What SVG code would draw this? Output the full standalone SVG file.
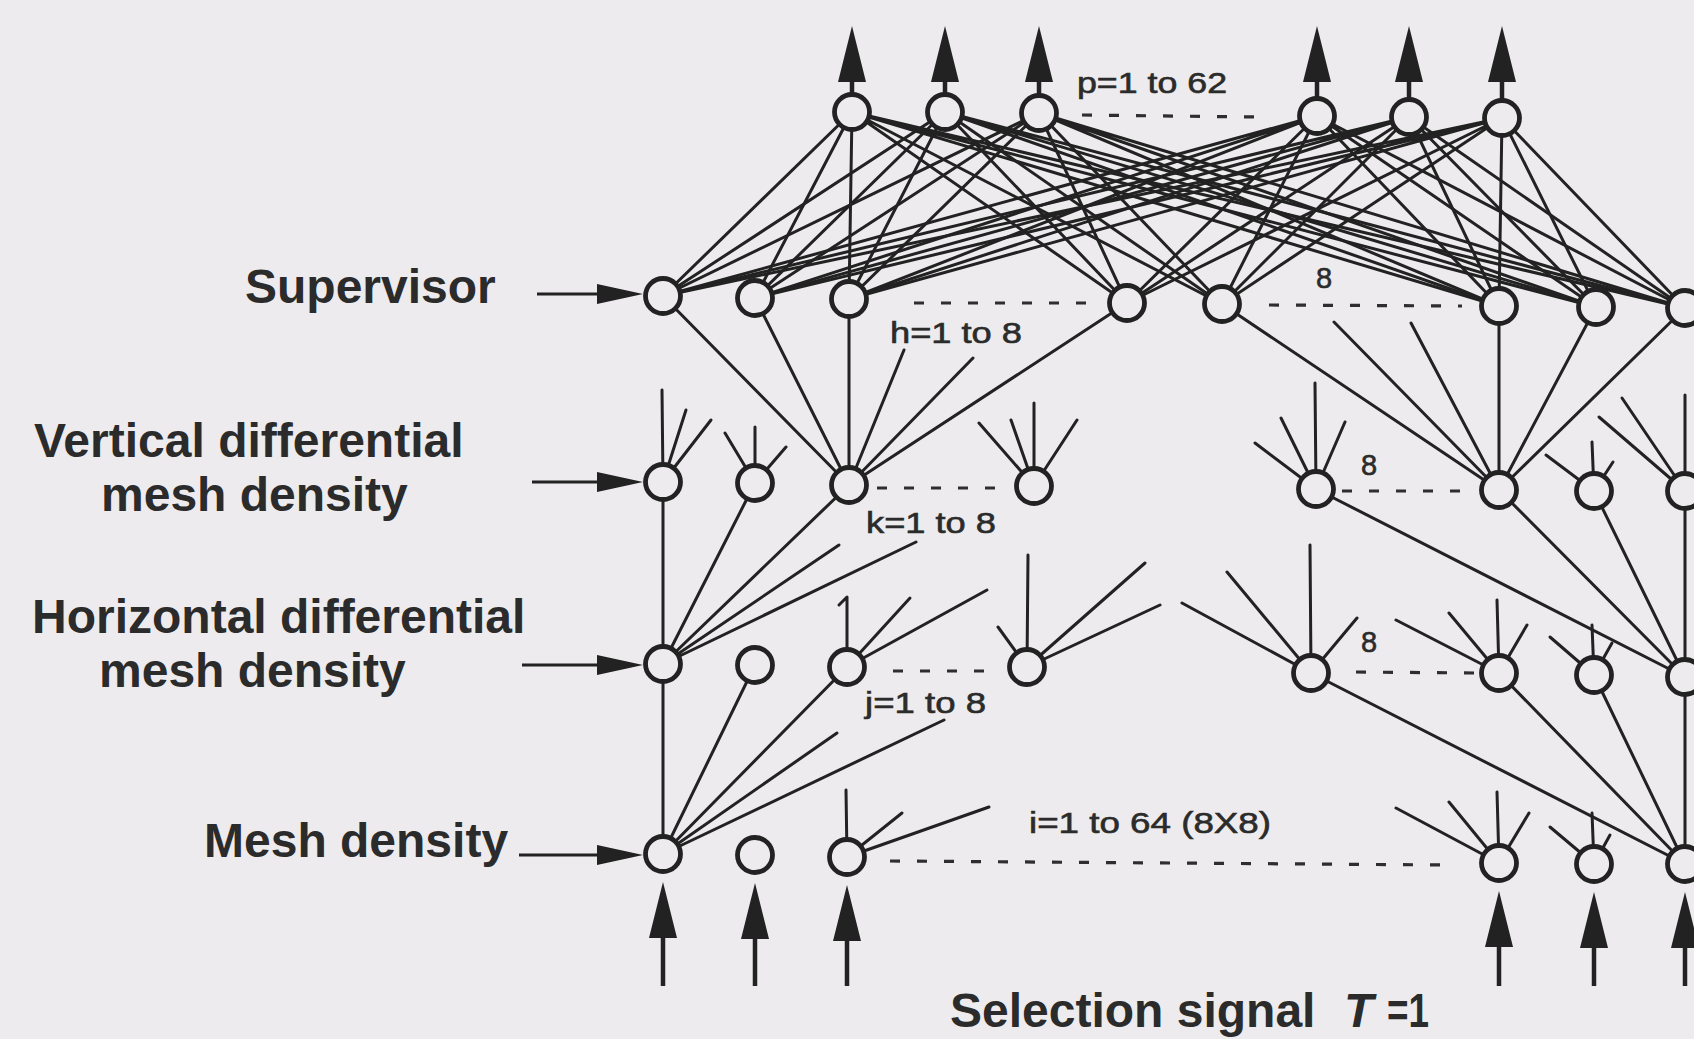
<svg xmlns="http://www.w3.org/2000/svg" width="1694" height="1039" viewBox="0 0 1694 1039">
<defs>
<style>
.ln{stroke:#222;stroke-width:3;fill:none;stroke-linecap:round}
.node circle{fill:#edebed;stroke:#222;stroke-width:4.8}
.dash{stroke:#2e2e2e;stroke-width:3.2;stroke-dasharray:10 17;fill:none}
.arr{stroke:#222;stroke-width:4.5;fill:none}
.lbl{font-family:"Liberation Sans",Arial,sans-serif;font-weight:bold;font-size:48px;fill:#2b2b2b}
.sm{font-family:"Liberation Sans",Arial,sans-serif;font-size:29px;fill:#2b2b2b;stroke:#2b2b2b;stroke-width:0.6}
</style>
<marker id="av" markerUnits="userSpaceOnUse" markerWidth="56" markerHeight="28" viewBox="0 0 56 28" refX="0" refY="14" orient="auto"><path d="M0,0 L56,14 L0,28 z" fill="#222"/></marker>
<marker id="ah" markerUnits="userSpaceOnUse" markerWidth="46" markerHeight="20" viewBox="0 0 46 20" refX="0" refY="10" orient="auto"><path d="M0,0 L46,10 L0,20 z" fill="#222"/></marker>
</defs>
<rect width="1694" height="1039" fill="#edebed"/>
<g id="connectors">
<path class="ln" d="M852,112L663,296M852,112L755,298M852,112L849,299M852,112L1127,303M852,112L1222,304M852,112L1499,306M852,112L1596,307M852,112L1685,308"/>
<path class="ln" d="M945,112L663,296M945,112L755,298M945,112L849,299M945,112L1127,303M945,112L1222,304M945,112L1499,306M945,112L1596,307M945,112L1685,308"/>
<path class="ln" d="M1039,113L663,296M1039,113L755,298M1039,113L849,299M1039,113L1127,303M1039,113L1222,304M1039,113L1499,306M1039,113L1596,307M1039,113L1685,308"/>
<path class="ln" d="M1317,116L663,296M1317,116L755,298M1317,116L849,299M1317,116L1127,303M1317,116L1222,304M1317,116L1499,306M1317,116L1596,307M1317,116L1685,308"/>
<path class="ln" d="M1409,117L663,296M1409,117L755,298M1409,117L849,299M1409,117L1127,303M1409,117L1222,304M1409,117L1499,306M1409,117L1596,307M1409,117L1685,308"/>
<path class="ln" d="M1502,118L663,296M1502,118L755,298M1502,118L849,299M1502,118L1127,303M1502,118L1222,304M1502,118L1499,306M1502,118L1596,307M1502,118L1685,308"/>
<path class="ln" d="M663,296L849,485M755,298L849,485M849,299L849,485M1127,303L849,485M849,485L904,350M849,485L973,358"/>
<path class="ln" d="M1222,304L1499,490M1499,306L1499,490M1596,307L1499,490M1685,308L1499,490M1499,490L1334,322M1499,490L1411,323"/>
<path class="ln" d="M663,482L662,390M663,482L686,410M663,482L711,420"/>
<path class="ln" d="M755,483L725,433M755,483L755,427M755,483L786,447"/>
<path class="ln" d="M1034,486L979,423M1034,486L1011,420M1034,486L1034,403M1034,486L1077,420"/>
<path class="ln" d="M1316,489L1255,443M1316,489L1281,418M1316,489L1315,383M1316,489L1345,422"/>
<path class="ln" d="M1594,491L1546,455M1594,491L1592,442M1594,491L1613,462"/>
<path class="ln" d="M1685,491L1599,417M1685,491L1622,398M1685,491L1685,395"/>
<path class="ln" d="M663,482L663,854M755,483L663,664M849,485L663,664M663,664L839,545M663,664L916,542"/>
<path class="ln" d="M1316,489L1685,677M1499,490L1685,677M1594,491L1685,677M1685,491L1685,864"/>
<path class="ln" d="M847,667L847,597M839,605L847,597M847,667L910,598M847,667L987,590"/>
<path class="ln" d="M1027,667L1028,555M1027,667L998,627M1027,667L1145,563M1027,667L1160,605"/>
<path class="ln" d="M1311,673L1310,545M1311,673L1227,572M1311,673L1182,603M1311,673L1357,618"/>
<path class="ln" d="M1499,673L1396,620M1499,673L1449,613M1499,673L1497,600M1499,673L1527,625"/>
<path class="ln" d="M1594,675L1550,637M1594,675L1592,625M1594,675L1612,643"/>
<path class="ln" d="M755,665L663,854M847,667L663,854M663,854L837,733M663,854L944,720"/>
<path class="ln" d="M1311,673L1685,864M1499,673L1685,864M1594,675L1685,864"/>
<path class="ln" d="M847,857L846,790M847,857L902,813M847,857L989,807"/>
<path class="ln" d="M1499,863L1396,808M1499,863L1449,802M1499,863L1497,792M1499,863L1529,813"/>
<path class="ln" d="M1594,864L1550,827M1594,864L1592,813M1594,864L1610,835"/>
<g class="arr">
<path d="M852,93L852,82" marker-end="url(#av)"/>
<path d="M945,93L945,82" marker-end="url(#av)"/>
<path d="M1039,94L1039,82" marker-end="url(#av)"/>
<path d="M1317,97L1317,82" marker-end="url(#av)"/>
<path d="M1409,98L1409,82" marker-end="url(#av)"/>
<path d="M1502,99L1502,82" marker-end="url(#av)"/>
<path d="M663,986L663,938" marker-end="url(#av)"/>
<path d="M755,986L755,939" marker-end="url(#av)"/>
<path d="M847,986L847,941" marker-end="url(#av)"/>
<path d="M1499,986L1499,947" marker-end="url(#av)"/>
<path d="M1594,986L1594,948" marker-end="url(#av)"/>
<path d="M1685,986L1685,948" marker-end="url(#av)"/>
<path d="M537,294L597,294" stroke-width="3" marker-end="url(#ah)"/>
<path d="M532,482L597,482" stroke-width="3" marker-end="url(#ah)"/>
<path d="M522,665L597,665" stroke-width="3" marker-end="url(#ah)"/>
<path d="M519,855L597,855" stroke-width="3" marker-end="url(#ah)"/>
</g>
</g>
<g id="ellipses" class="dash">
<path d="M1082,115L1257,117"/>
<path d="M914,303L1090,303"/>
<path d="M1269,305L1462,306"/>
<path d="M877,488L1000,488"/>
<path d="M1342,491L1462,491"/>
<path d="M893,671L986,671"/>
<path d="M1356,672L1474,673"/>
<path d="M890,861L1448,865"/>
</g>
<g id="output-layer">
<g id="o1" class="node"><circle cx="852" cy="112" r="17.5"/></g>
<g id="o2" class="node"><circle cx="945" cy="112" r="17.5"/></g>
<g id="o3" class="node"><circle cx="1039" cy="113" r="17.5"/></g>
<g id="o4" class="node"><circle cx="1317" cy="116" r="17.5"/></g>
<g id="o5" class="node"><circle cx="1409" cy="117" r="17.5"/></g>
<g id="o6" class="node"><circle cx="1502" cy="118" r="17.5"/></g>
</g>
<g id="supervisor-layer">
<g id="s1" class="node"><circle cx="663" cy="296" r="17.5"/></g>
<g id="s2" class="node"><circle cx="755" cy="298" r="17.5"/></g>
<g id="s3" class="node"><circle cx="849" cy="299" r="17.5"/></g>
<g id="s4" class="node"><circle cx="1127" cy="303" r="17.5"/></g>
<g id="s5" class="node"><circle cx="1222" cy="304" r="17.5"/></g>
<g id="s6" class="node"><circle cx="1499" cy="306" r="17.5"/></g>
<g id="s7" class="node"><circle cx="1596" cy="307" r="17.5"/></g>
<g id="s8" class="node"><circle cx="1685" cy="308" r="17.5"/></g>
</g>
<g id="vertical-layer">
<g id="v1" class="node"><circle cx="663" cy="482" r="17.5"/></g>
<g id="v2" class="node"><circle cx="755" cy="483" r="17.5"/></g>
<g id="v3" class="node"><circle cx="849" cy="485" r="17.5"/></g>
<g id="v4" class="node"><circle cx="1034" cy="486" r="17.5"/></g>
<g id="v5" class="node"><circle cx="1316" cy="489" r="17.5"/></g>
<g id="v6" class="node"><circle cx="1499" cy="490" r="17.5"/></g>
<g id="v7" class="node"><circle cx="1594" cy="491" r="17.5"/></g>
<g id="v8" class="node"><circle cx="1685" cy="491" r="17.5"/></g>
</g>
<g id="horizontal-layer">
<g id="h1" class="node"><circle cx="663" cy="664" r="17.5"/></g>
<g id="h2" class="node"><circle cx="755" cy="665" r="17.5"/></g>
<g id="h3" class="node"><circle cx="847" cy="667" r="17.5"/></g>
<g id="h4" class="node"><circle cx="1027" cy="667" r="17.5"/></g>
<g id="h5" class="node"><circle cx="1311" cy="673" r="17.5"/></g>
<g id="h6" class="node"><circle cx="1499" cy="673" r="17.5"/></g>
<g id="h7" class="node"><circle cx="1594" cy="675" r="17.5"/></g>
<g id="h8" class="node"><circle cx="1685" cy="677" r="17.5"/></g>
</g>
<g id="mesh-layer">
<g id="m1" class="node"><circle cx="663" cy="854" r="17.5"/></g>
<g id="m2" class="node"><circle cx="755" cy="855" r="17.5"/></g>
<g id="m3" class="node"><circle cx="847" cy="857" r="17.5"/></g>
<g id="m62" class="node"><circle cx="1499" cy="863" r="17.5"/></g>
<g id="m63" class="node"><circle cx="1594" cy="864" r="17.5"/></g>
<g id="m64" class="node"><circle cx="1685" cy="864" r="17.5"/></g>
</g>
<g id="labels">
<text class="lbl" x="245" y="303">Supervisor</text>
<text class="lbl" x="34" y="457">Vertical differential</text>
<text class="lbl" x="101" y="511">mesh density</text>
<text class="lbl" x="32" y="633">Horizontal differential</text>
<text class="lbl" x="99" y="687">mesh density</text>
<text class="lbl" x="204" y="857">Mesh density</text>
<text class="lbl" x="950" y="1027">Selection signal</text>
<text class="lbl" x="1344" y="1027" font-style="italic" font-weight="normal" font-size="40">T</text>
<text class="lbl" x="1387" y="1027" font-size="42" textLength="42" lengthAdjust="spacingAndGlyphs">=1</text>
<text class="sm" x="1077" y="93" textLength="150" lengthAdjust="spacingAndGlyphs">p=1 to 62</text>
<text class="sm" x="890" y="343" textLength="132" lengthAdjust="spacingAndGlyphs">h=1 to 8</text>
<text class="sm" x="1316" y="288">8</text>
<text class="sm" x="866" y="533" textLength="130" lengthAdjust="spacingAndGlyphs">k=1 to 8</text>
<text class="sm" x="1361" y="475">8</text>
<text class="sm" x="865" y="713" textLength="121" lengthAdjust="spacingAndGlyphs">j=1 to 8</text>
<text class="sm" x="1361" y="652">8</text>
<text class="sm" x="1029" y="833" textLength="242" lengthAdjust="spacingAndGlyphs">i=1 to 64 (8X8)</text>
</g>
</svg>
